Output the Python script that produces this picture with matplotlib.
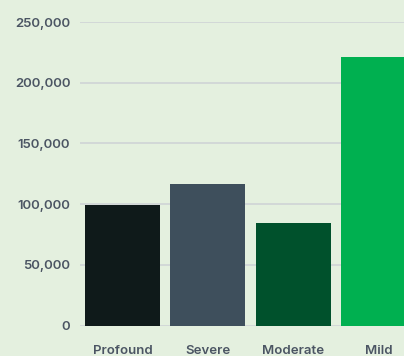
import matplotlib
matplotlib.use("Agg")
import matplotlib.pyplot as plt
from matplotlib.ticker import FuncFormatter

categories = ["Profound", "Severe", "Moderate", "Mild"]
values = [99500, 117000, 84800, 221000]
colors = ["#0f1a1a", "#3e4f5c", "#00512c", "#00b050"]
yticks = [0, 50000, 100000, 150000, 200000, 250000]

bg = "#e4f0df"
W, H = 404, 356
fig = plt.figure(figsize=(W / 100, H / 100), dpi=100, facecolor=bg)
left, right = 80, 421
top, bottom = 22, 325.7
ax = fig.add_axes([left / W, (H - bottom) / H, (right - left) / W, (bottom - top) / H])
ax.set_facecolor(bg)

x = range(len(categories))
ax.bar(x, values, width=0.88, color=colors, zorder=3)
ax.set_xlim(-0.5, 3.5)
ax.set_ylim(0, 250000)
ax.set_yticks(yticks)
ax.yaxis.set_major_formatter(FuncFormatter(lambda v, p: f"{int(v):,}"))
ax.set_xticks(list(x))
ax.set_xticklabels(categories)
ax.grid(axis="y", color="#cfd4d6", linewidth=1.2, zorder=0)
for s in ax.spines.values():
    s.set_visible(False)
ax.tick_params(axis="both", length=0, labelcolor="#4b5563", labelsize=9.5)
ax.tick_params(axis="y", pad=7)
ax.tick_params(axis="x", pad=14)
for lab in ax.get_xticklabels() + ax.get_yticklabels():
    lab.set_fontfamily("Inter")
    lab.set_fontweight("semibold")

fig.savefig("out.png", dpi=100, facecolor=bg)
